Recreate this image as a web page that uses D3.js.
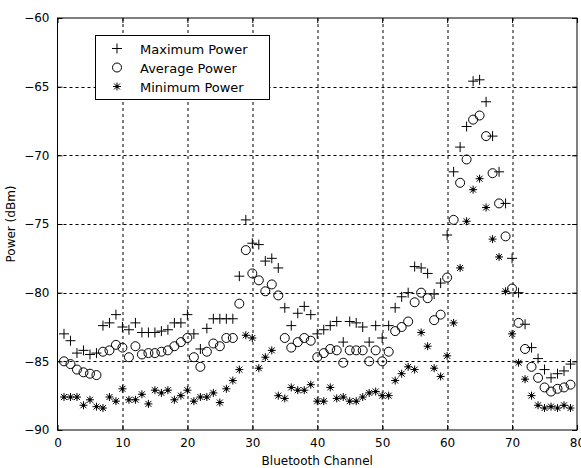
<!DOCTYPE html>
<html>
<head>
<meta charset="utf-8">
<script src="https://cdn.jsdelivr.net/npm/d3@7"></script>
<style>
  body { margin: 0; background: #fff; }
  text { font-family: "DejaVu Sans", Verdana, sans-serif; }
</style>
</head>
<body>
<div id="chart"></div>
<script>
// datos (canal 1..79)
var channels = d3.range(1, 80)

var maxPower = [
  -83.0, -83.5, -84.4, -84.2, -84.5, -84.4, -82.4, -82.2, -81.6, -82.5,
  -82.7, -82.2, -82.9, -82.9, -82.9, -82.8, -82.7, -82.2, -82.2, -81.6,
  -83.0, -84.1, -82.6, -81.9, -81.9, -81.9, -81.9, -78.8, -74.7, -76.4,
  -76.5, -77.7, -77.5, -78.2, -81.1, -82.4, -81.5, -81.0, -81.6, -83.0,
  -82.7, -82.4, -82.1, -83.6, -82.1, -82.2, -82.5, -83.6, -82.4, -83.3,
  -82.4, -81.1, -80.3, -80.0, -78.1, -78.2, -78.6, -80.1, -79.3, -75.8,
  -71.2, -69.4, -67.9, -64.6, -64.5, -66.1, -68.6, -71.2, -73.5, -77.5,
  -80.0, -82.3, -84.0, -84.8, -85.6, -86.2, -85.9, -85.7, -85.2
]

var avgPower = [
  -85.0, -85.2, -85.6, -85.8, -85.9, -86.0, -84.3, -84.2, -83.8, -84.0,
  -84.7, -83.9, -84.5, -84.4, -84.4, -84.3, -84.2, -83.9, -83.6, -83.3,
  -84.7, -85.4, -84.3, -83.7, -83.9, -83.3, -83.3, -80.8, -76.9, -78.6,
  -79.1, -79.9, -79.4, -80.2, -83.3, -84.0, -83.6, -83.3, -83.5, -84.7,
  -84.4, -84.1, -84.2, -85.1, -84.2, -84.2, -84.2, -85.0, -84.2, -85.0,
  -84.3, -82.8, -82.5, -82.1, -80.7, -80.0, -80.4, -82.0, -81.6, -78.9,
  -74.7, -72.0, -70.3, -67.4, -67.1, -68.6, -71.3, -73.5, -75.9, -79.7,
  -82.2, -84.1, -85.4, -86.2, -86.9, -87.2, -87.0, -86.9, -86.7
]

var minPower = [
  -87.6, -87.6, -87.6, -88.2, -87.8, -88.3, -88.4, -87.6, -87.9, -87.0,
  -87.8, -87.8, -87.4, -88.1, -87.1, -87.3, -87.1, -87.8, -87.5, -87.1,
  -87.9, -87.6, -87.6, -87.3, -88.0, -87.0, -86.4, -85.6, -83.1, -83.3,
  -85.5, -84.7, -84.2, -87.5, -87.7, -86.9, -87.1, -87.1, -86.7, -87.9,
  -87.9, -86.9, -87.7, -87.6, -87.9, -87.9, -87.6, -87.3, -87.2, -87.5,
  -87.5, -86.4, -85.9, -85.4, -85.6, -82.9, -83.9, -85.5, -86.1, -84.6,
  -82.2, -78.2, -74.8, -72.5, -71.7, -73.8, -76.1, -77.4, -79.9, -83.0,
  -85.1, -86.3, -87.5, -88.2, -88.4, -88.3, -88.4, -88.2, -88.4
]

var xTicks = [0, 10, 20, 30, 40, 50, 60, 70, 80]
var yTicks = [-90, -85, -80, -75, -70, -65, -60]
var seriesNames = ['Maximum Power', 'Average Power', 'Minimum Power']
var seriesMarkers = ['plus', 'circle', 'star']

var width = 581
var height = 468
var margin = { top: 18, right: 4, bottom: 38, left: 57.5 }
var innerW = width - margin.left - margin.right
var innerH = height - margin.top - margin.bottom

var svg = d3
  .select('#chart')
  .append('svg')
  .attr('width', width)
  .attr('height', height)

var g = svg
  .append('g')
  .attr('transform', 'translate(' + margin.left + ',' + margin.top + ')')

var x = d3.scaleLinear().domain([0, 80]).range([0, innerW])
var y = d3.scaleLinear().domain([-90, -60]).range([innerH, 0])

// rejilla punteada
g.append('g')
  .selectAll('line')
  .data(xTicks.slice(1, -1))
  .enter()
  .append('line')
  .attr('x1', (d) => Math.round(x(d)) + 0.5)
  .attr('x2', (d) => Math.round(x(d)) + 0.5)
  .attr('y1', 0)
  .attr('y2', innerH)
  .attr('stroke', '#000')
  .attr('stroke-dasharray', '3,3')

g.append('g')
  .selectAll('line')
  .data(yTicks.slice(1, -1))
  .enter()
  .append('line')
  .attr('y1', (d) => Math.round(y(d)) + 0.5)
  .attr('y2', (d) => Math.round(y(d)) + 0.5)
  .attr('x1', 0)
  .attr('x2', innerW)
  .attr('stroke', '#000')
  .attr('stroke-dasharray', '3,3')

// ejes con ticks hacia dentro
var xaxis = d3.axisBottom(x).tickValues(xTicks).tickSizeInner(-5).tickSizeOuter(0).tickPadding(8)
var yaxis = d3.axisLeft(y).tickValues(yTicks).tickSizeInner(-5).tickSizeOuter(0).tickPadding(8)

g.append('g')
  .attr('transform', 'translate(0,' + innerH + ')')
  .call(xaxis)
  .call((a) => a.select('.domain').remove())
  .selectAll('text')
  .style('font-size', '12px')
  .style('font-family', '"DejaVu Sans", Verdana, sans-serif')
  .attr('fill', '#000')

g.append('g')
  .call(yaxis)
  .call((a) => a.select('.domain').remove())
  .selectAll('text')
  .style('font-size', '12px')
  .style('font-family', '"DejaVu Sans", Verdana, sans-serif')
  .attr('fill', '#000')

// ticks superiores y derechos
g.append('g').call(d3.axisTop(x).tickValues(xTicks).tickSizeInner(-5).tickSizeOuter(0).tickFormat(''))
  .call((a) => a.select('.domain').remove())
g.append('g')
  .attr('transform', 'translate(' + innerW + ',0)')
  .call(d3.axisRight(y).tickValues(yTicks).tickSizeInner(-5).tickSizeOuter(0).tickFormat(''))
  .call((a) => a.select('.domain').remove())

g.append('rect')
  .attr('x', 0)
  .attr('y', 0)
  .attr('width', innerW)
  .attr('height', innerH)
  .attr('fill', 'none')
  .attr('stroke', '#000')

// marcadores
function drawMarker(sel, type) {
  if (type == 'plus') {
    sel.append('path').attr('d', 'M-5,0H5M0,-5V5').attr('stroke', '#000').attr('fill', 'none')
  } else if (type == 'circle') {
    sel.append('circle').attr('r', 4.5).attr('stroke', '#000').attr('fill', 'none')
  } else {
    sel.append('path')
      .attr('d', 'M-4,0H4M0,-4V4M-3,-3L3,3M-3,3L3,-3')
      .attr('stroke', '#000')
      .attr('fill', 'none')
    sel.append('circle').attr('r', 1.6).attr('fill', '#000')
  }
}

var allSeries = [maxPower, avgPower, minPower]
allSeries.forEach(function (values, s) {
  var pts = g
    .append('g')
    .selectAll('g')
    .data(channels)
    .enter()
    .append('g')
    .attr('transform', (d, i) => 'translate(' + x(d) + ',' + y(values[i]) + ')')
  drawMarker(pts, seriesMarkers[s])
})

// leyenda
var legend = svg.append('g').attr('transform', 'translate(95,35)')
legend
  .append('rect')
  .attr('x', 0.5)
  .attr('y', 0.5)
  .attr('width', 174)
  .attr('height', 64)
  .attr('fill', '#fff')
  .attr('stroke', '#000')

seriesNames.forEach(function (name, i) {
  var row = legend.append('g').attr('transform', 'translate(22,' + (13.5 + i * 19) + ')')
  drawMarker(row, seriesMarkers[i])
  row
    .append('text')
    .attr('x', 23)
    .attr('y', 5)
    .style('font-size', '13px')
    .text(name)
})

// titulos de ejes
svg
  .append('text')
  .attr('x', margin.left + innerW / 2)
  .attr('y', 465)
  .attr('text-anchor', 'middle')
  .style('font-size', '12px')
  .text('Bluetooth Channel')

svg
  .append('text')
  .attr('transform', 'translate(15,' + (margin.top + innerH / 2) + ') rotate(-90)')
  .attr('text-anchor', 'middle')
  .style('font-size', '12px')
  .text('Power (dBm)')
</script>
</body>
</html>
